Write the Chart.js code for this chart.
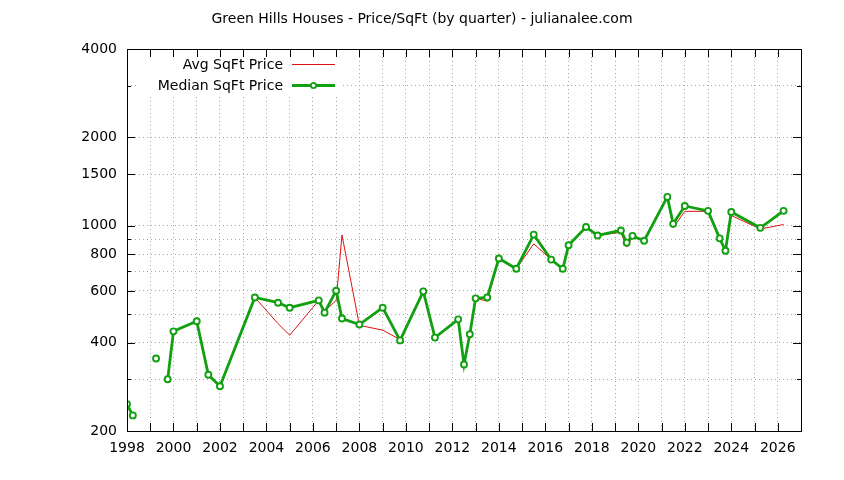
<!DOCTYPE html>
<html>
<head>
<meta charset="utf-8">
<script src="https://cdn.jsdelivr.net/npm/chart.js@4.4.0/dist/chart.umd.min.js"></script>
<style>
  html, body { margin: 0; padding: 0; background: #fff; }
  #wrap { width: 844px; height: 480px; }
</style>
</head>
<body>
<div id="wrap"><canvas id="priceChart" width="844" height="480"></canvas></div>
<script>
// quarter positions (decimal years), null rows break the line
const quarters = [
  1998.0, 1998.25, 1998.5, 1999.25, 1999.5, 1999.75, 2000.0, 2001.0, 2001.5, 2002.0,
  2003.5, 2004.5, 2005.0, 2006.25, 2006.5, 2007.0, 2007.25, 2008.0, 2009.0, 2009.75,
  2010.75, 2011.25, 2012.25, 2012.5, 2012.75, 2013.0, 2013.5, 2014.0, 2014.75, 2015.5,
  2016.25, 2016.75, 2017.0, 2017.75, 2018.25, 2019.25, 2019.5, 2019.75, 2020.25, 2021.25,
  2021.5, 2022.0, 2023.0, 2023.5, 2023.75, 2024.0, 2025.25, 2026.25
];
const medianPrice = [
  247, 226, null, 353, null, 300, 437, 473, 311, 284,
  570, 547, 526, 557, 506, 601, 483, 461, 526, 407,
  598, 416, 480, 337, 427, 566, 570, 774, 714, 933,
  767, 714, 858, 990, 927, 964, 876, 924, 889, 1254,
  1015, 1168, 1124, 906, 822, 1114, 984, 1124
];
const avgPrice = [
  247, 226, null, 353, null, 300, 437, 473, 311, 284,
  570, 464, 424, 557, 512, 557, 930, 458, 441, 410,
  598, 416, 480, 337, 427, 566, 554, 774, 714, 868,
  767, 714, 858, 990, 927, 950, 846, 915, 889, 1254,
  984, 1120, 1120, 906, 822, 1084, 975, 1010
];
const yTicks = [200, 300, 400, 500, 600, 700, 800, 900, 1000, 1500, 2000, 3000, 4000];
const yLabelled = [200, 400, 600, 800, 1000, 1500, 2000, 4000];

const FONT = '"DejaVu Sans", Verdana, sans-serif';
const GREEN = '#12a012';
const RED = '#dd1111';

function toPoints(values) {
  return quarters.map(function(q, i) { return { x: q, y: values[i] }; });
}

// gnuplot style frame, inward ticks, title and legend box
const gnuplotFrame = {
  id: 'gnuplotFrame',
  afterDatasetsDraw: function(chart) {
    const c = chart.ctx;
    const a = chart.chartArea;
    const xs = chart.scales.x;
    const ys = chart.scales.y;
    c.save();

    // legend background hides the grid
    c.fillStyle = '#fff';
    c.fillRect(138, a.top + 1, 205, 46);

    c.strokeStyle = '#000';
    c.lineWidth = 1;
    c.beginPath();
    for (let yr = 1998; yr <= 2027; yr++) {
      const px = Math.round(xs.getPixelForValue(yr)) + 0.5;
      c.moveTo(px, a.bottom); c.lineTo(px, a.bottom - 8);
      c.moveTo(px, a.top); c.lineTo(px, a.top + 8);
    }
    yTicks.forEach(function(v) {
      const len = yLabelled.indexOf(v) >= 0 ? 8 : 4;
      const py = Math.round(ys.getPixelForValue(v)) + 0.5;
      c.moveTo(a.left, py); c.lineTo(a.left + len, py);
      c.moveTo(a.right, py); c.lineTo(a.right - len, py);
    });
    c.stroke();
    c.strokeRect(Math.round(a.left) + 0.5, Math.round(a.top) + 0.5,
                 Math.round(a.right - a.left), Math.round(a.bottom - a.top));

    // title
    c.fillStyle = '#000';
    c.font = '14px ' + FONT;
    c.textAlign = 'center';
    c.textBaseline = 'middle';
    c.fillText('Green Hills Houses - Price/SqFt (by quarter) - julianalee.com', 422, 19);

    // legend
    c.textAlign = 'right';
    c.fillText('Avg SqFt Price', 283, 65);
    c.fillText('Median SqFt Price', 283, 86);
    c.strokeStyle = RED;
    c.lineWidth = 1;
    c.beginPath(); c.moveTo(292, 64.5); c.lineTo(335, 64.5); c.stroke();
    c.strokeStyle = GREEN;
    c.lineWidth = 2.8;
    c.beginPath(); c.moveTo(292, 85.5); c.lineTo(335, 85.5); c.stroke();
    c.lineWidth = 1.8;
    c.fillStyle = '#fff';
    c.beginPath(); c.arc(313.5, 85.5, 2.6, 0, Math.PI * 2); c.fill(); c.stroke();
    c.restore();
  }
};

const ctx = document.getElementById('priceChart').getContext('2d');
new Chart(ctx, {
  type: 'line',
  data: {
    datasets: [
      {
        label: 'Median SqFt Price',
        data: toPoints(medianPrice),
        borderColor: GREEN,
        borderWidth: 2.8,
        pointRadius: 3,
        pointBorderWidth: 1.9,
        pointBackgroundColor: '#fff',
        pointBorderColor: GREEN,
        spanGaps: false,
        tension: 0,
        order: 0
      },
      {
        label: 'Avg SqFt Price',
        data: toPoints(avgPrice),
        borderColor: RED,
        borderWidth: 1,
        pointRadius: 0,
        spanGaps: false,
        tension: 0,
        order: 1
      }
    ]
  },
  options: {
    responsive: false,
    animation: false,
    devicePixelRatio: 1,
    layout: { padding: { top: 49, right: 43, bottom: 0, left: 0 } },
    plugins: {
      legend: { display: false },
      title: { display: false },
      tooltip: { enabled: false }
    },
    scales: {
      x: {
        type: 'linear',
        min: 1998,
        max: 2027,
        afterFit: function(scale) { scale.height = 49; },
        ticks: {
          stepSize: 1,
          autoSkip: false,
          maxRotation: 0,
          padding: 9,
          color: '#000',
          font: { family: FONT, size: 14 },
          callback: function(v) { return (v % 2 === 0 && v < 2027) ? String(v) : ''; }
        },
        grid: {
          color: '#a8a8a8',
          lineWidth: 1,
          drawTicks: false
        },
        border: { display: false, dash: [1, 3] }
      },
      y: {
        type: 'logarithmic',
        min: 200,
        max: 4000,
        afterFit: function(scale) { scale.width = 127; },
        afterBuildTicks: function(scale) {
          scale.ticks = yTicks.map(function(v) { return { value: v }; });
        },
        ticks: {
          autoSkip: false,
          padding: 10,
          color: '#000',
          font: { family: FONT, size: 14 },
          callback: function(v) { return yLabelled.indexOf(v) >= 0 ? String(v) : ''; }
        },
        grid: {
          color: '#a8a8a8',
          lineWidth: 1,
          drawTicks: false
        },
        border: { display: false, dash: [1, 3] }
      }
    }
  },
  plugins: [gnuplotFrame]
});
</script>
</body>
</html>
